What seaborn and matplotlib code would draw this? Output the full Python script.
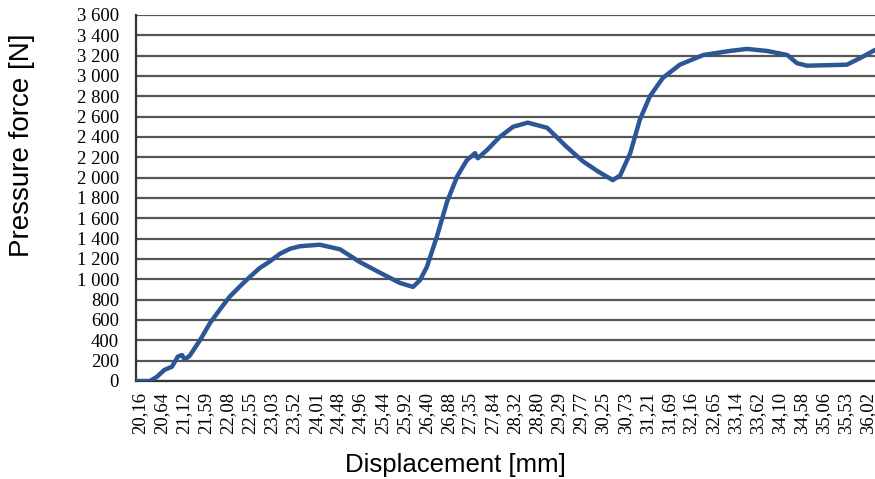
import numpy as np
import pandas as pd
import matplotlib
matplotlib.use("Agg")
import matplotlib.pyplot as plt
from matplotlib.ticker import FuncFormatter
import seaborn as sns

# displacement [mm] and force [N]
displacement = [20.07, 20.38, 20.53, 20.70, 20.86, 20.99, 21.08, 21.14, 21.25, 21.47,
                21.69, 21.90, 22.12, 22.34, 22.56, 22.77, 22.99, 23.21, 23.43, 23.65,
                24.08, 24.52, 24.95, 25.39, 25.82, 26.11, 26.26, 26.41, 26.63, 26.85,
                27.07, 27.28, 27.46, 27.52, 27.72, 28.00, 28.29, 28.61, 29.03, 29.46,
                29.81, 30.14, 30.46, 30.62, 30.84, 31.05, 31.27, 31.55, 31.92, 32.43,
                33.01, 33.38, 33.82, 34.26, 34.47, 34.69, 35.56, 35.91, 36.17]
force = [0, 0, 40, 110, 140, 240, 255, 210, 250, 400,
         570, 700, 830, 930, 1025, 1110, 1175, 1250, 1300, 1325,
         1340, 1295, 1170, 1065, 965, 925, 990, 1120, 1420, 1760,
         2010, 2170, 2240, 2190, 2270, 2400, 2500, 2540, 2490, 2300,
         2160, 2060, 1975, 2020, 2240, 2570, 2800, 2980, 3110, 3205,
         3245, 3265, 3245, 3205, 3125, 3100, 3110, 3190, 3255]

x_labels = ["20,16", "20,64", "21,12", "21,59", "22,08", "22,55", "23,03", "23,52",
            "24,01", "24,48", "24,96", "25,44", "25,92", "26,40", "26,88", "27,35",
            "27,84", "28,32", "28,80", "29,29", "29,77", "30,25", "30,73", "31,21",
            "31,69", "32,16", "32,65", "33,14", "33,62", "34,10", "34,58", "35,06",
            "35,53", "36,02"]
y_ticks = list(range(0, 3601, 200))

df = pd.DataFrame({"disp": displacement, "force": force})

sns.set_style("white")

fig = plt.figure(figsize=(8.75, 4.79), dpi=100)
ax = fig.add_axes([0.155, 0.2046, 0.845, 0.7644])

sns.lineplot(data=df, x="disp", y="force", ax=ax, color="#2b5797", linewidth=3.2, zorder=3)

ax.set_xlim(20.07, 36.17)
ax.set_ylim(0, 3600)
ax.set_yticks(y_ticks)
ax.yaxis.set_major_formatter(FuncFormatter(lambda v, p: f"{v:,.0f}".replace(",", " ")))
ax.set_xticks([float(s.replace(",", ".")) for s in x_labels])
ax.set_xticklabels(x_labels, rotation=90)

for lbl in ax.get_xticklabels() + ax.get_yticklabels():
    lbl.set_family("Liberation Serif")
    lbl.set_fontsize(13.5)
    lbl.set_color("black")
ax.tick_params(axis="y", length=0, pad=12)
ax.tick_params(axis="x", length=0, pad=8)

ax.grid(axis="y", color="#555555", linewidth=1.6)
ax.grid(axis="x", visible=False)
for side in ["top", "right"]:
    ax.spines[side].set_visible(False)
for side in ["left", "bottom"]:
    ax.spines[side].set_color("#333333")
    ax.spines[side].set_linewidth(1.6)

ax.set_xlabel("Displacement [mm]", family="Liberation Sans", fontsize=18.5, color="black")
ax.set_ylabel("Pressure force [N]", family="Liberation Sans", fontsize=20, color="black")
ax.xaxis.set_label_coords(0.432, -0.23)
ax.yaxis.set_label_coords(-0.154, 0.645)
ax.xaxis.label.set_va("center")
ax.yaxis.label.set_va("center")

fig.savefig("out.png", dpi=100)
